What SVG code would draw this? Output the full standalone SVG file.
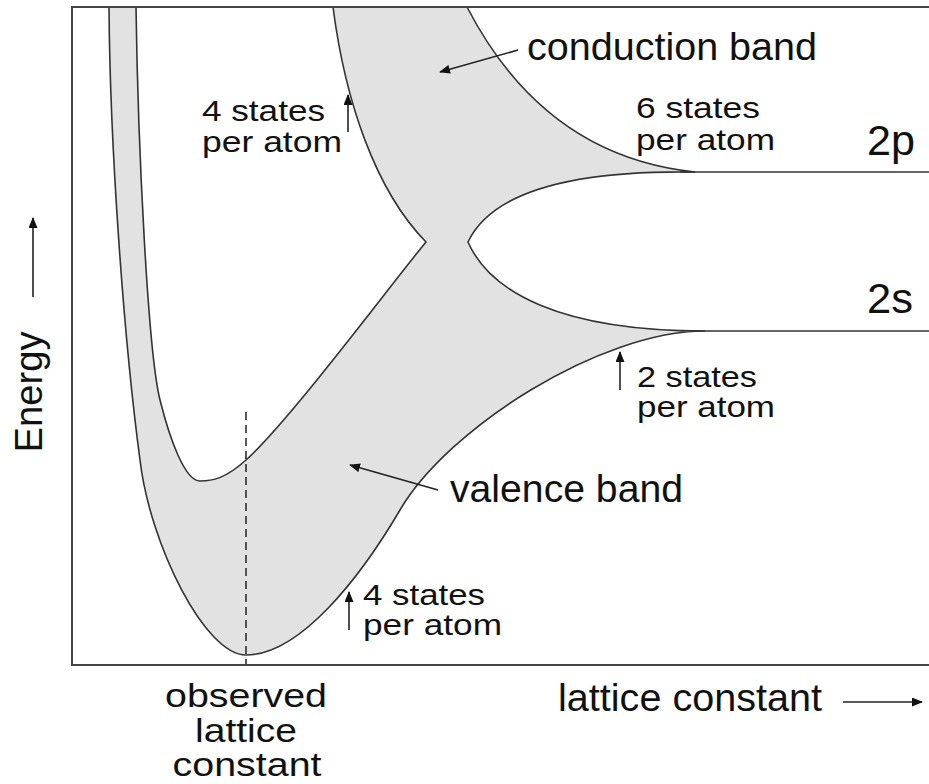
<svg xmlns="http://www.w3.org/2000/svg" width="929" height="784" viewBox="0 0 929 784">
<style>
text{font-family:"Liberation Sans",Arial,sans-serif;fill:#111}
.s{font-size:30px}
.b{font-size:38px}
.o{font-size:33px}
.l{font-size:43px}
.curve{fill:none;stroke:#333;stroke-width:1.6}
.arrow{fill:none;stroke:#222;stroke-width:1.6;marker-end:url(#ah)}
</style>
<defs>
<marker id="ah" markerUnits="userSpaceOnUse" markerWidth="11" markerHeight="9" refX="10" refY="4.5" orient="auto">
<path d="M0,0 L11,4.5 L0,9 Z" fill="#111"/>
</marker>
</defs>
<rect width="929" height="784" fill="#fff"/>
<g id="bands">
<path id="band-shape" d="M109,7 C110,150 124,340 140,460 C150,545 205,655 246,655 C300,655 360,578 400,510 C448,428 600,331 705,331 C560,331 490,292 468,242 C488,200 550,170 695,172 C580,160 510,90 467,7 L333,7 C345,100 375,190 426,242 C385,292 290,420 246,460 C225,479 212,481 200,481 C185,481 170,440 160,400 C148,352 138,150 136,7 Z" fill="#e2e2e2" stroke="#333" stroke-width="1.6" stroke-linejoin="miter"/>
<path class="curve" d="M680,172 H929 M690,331 H929"/>
<path d="M246,412 V665" fill="none" stroke="#222" stroke-width="1.5" stroke-dasharray="8,5"/>
</g>
<g id="frame">
<path d="M929,7 H72 V665 H929" fill="none" stroke="#444" stroke-width="2"/>
</g>
<g id="connectors">
<path class="arrow" d="M348,132 V95"/>
<path class="arrow" d="M518,50 L440,72"/>
<path class="arrow" d="M438,490 L350,465"/>
<path class="arrow" d="M349,630 V592"/>
<path class="arrow" d="M620,390 V352"/>
<path class="arrow" d="M33,297 V218"/>
<path class="arrow" d="M843,702 H922"/>
</g>
<g id="label-4states-top">
<text class="s" x="202" y="121" textLength="123" lengthAdjust="spacingAndGlyphs">4 states</text>
<text class="s" x="202" y="152" textLength="140" lengthAdjust="spacingAndGlyphs">per atom</text>
</g>
<g id="label-conduction">
<text class="b" x="527" y="60" textLength="290" lengthAdjust="spacingAndGlyphs">conduction band</text>
</g>
<g id="label-6states">
<text class="s" x="636" y="118" textLength="124" lengthAdjust="spacingAndGlyphs">6 states</text>
<text class="s" x="636" y="150" textLength="139" lengthAdjust="spacingAndGlyphs">per atom</text>
</g>
<g id="label-2p"><text class="l" x="867" y="155" textLength="48" lengthAdjust="spacingAndGlyphs">2p</text></g>
<g id="label-2s"><text class="l" x="867" y="313" textLength="46" lengthAdjust="spacingAndGlyphs">2s</text></g>
<g id="label-2states">
<text class="s" x="637" y="387" textLength="120" lengthAdjust="spacingAndGlyphs">2 states</text>
<text class="s" x="637" y="417" textLength="138" lengthAdjust="spacingAndGlyphs">per atom</text>
</g>
<g id="label-valence">
<text class="b" x="450" y="502" textLength="233" lengthAdjust="spacingAndGlyphs">valence band</text>
</g>
<g id="label-4states-bottom">
<text class="s" x="363" y="605" textLength="122" lengthAdjust="spacingAndGlyphs">4 states</text>
<text class="s" x="363" y="635" textLength="139" lengthAdjust="spacingAndGlyphs">per atom</text>
</g>
<g id="label-observed" text-anchor="middle">
<text class="o" x="246" y="707" textLength="162" lengthAdjust="spacingAndGlyphs">observed</text>
<text class="o" x="246" y="742" textLength="102" lengthAdjust="spacingAndGlyphs">lattice</text>
<text class="o" x="247" y="776" textLength="149" lengthAdjust="spacingAndGlyphs">constant</text>
</g>
<g id="label-lattice">
<text class="b" x="558" y="711" textLength="264" lengthAdjust="spacingAndGlyphs">lattice constant</text>
</g>
<g id="label-energy">
<text class="b" transform="translate(42,392) rotate(-90)" x="0" y="0" text-anchor="middle" textLength="121" lengthAdjust="spacingAndGlyphs">Energy</text>
</g>
</svg>
